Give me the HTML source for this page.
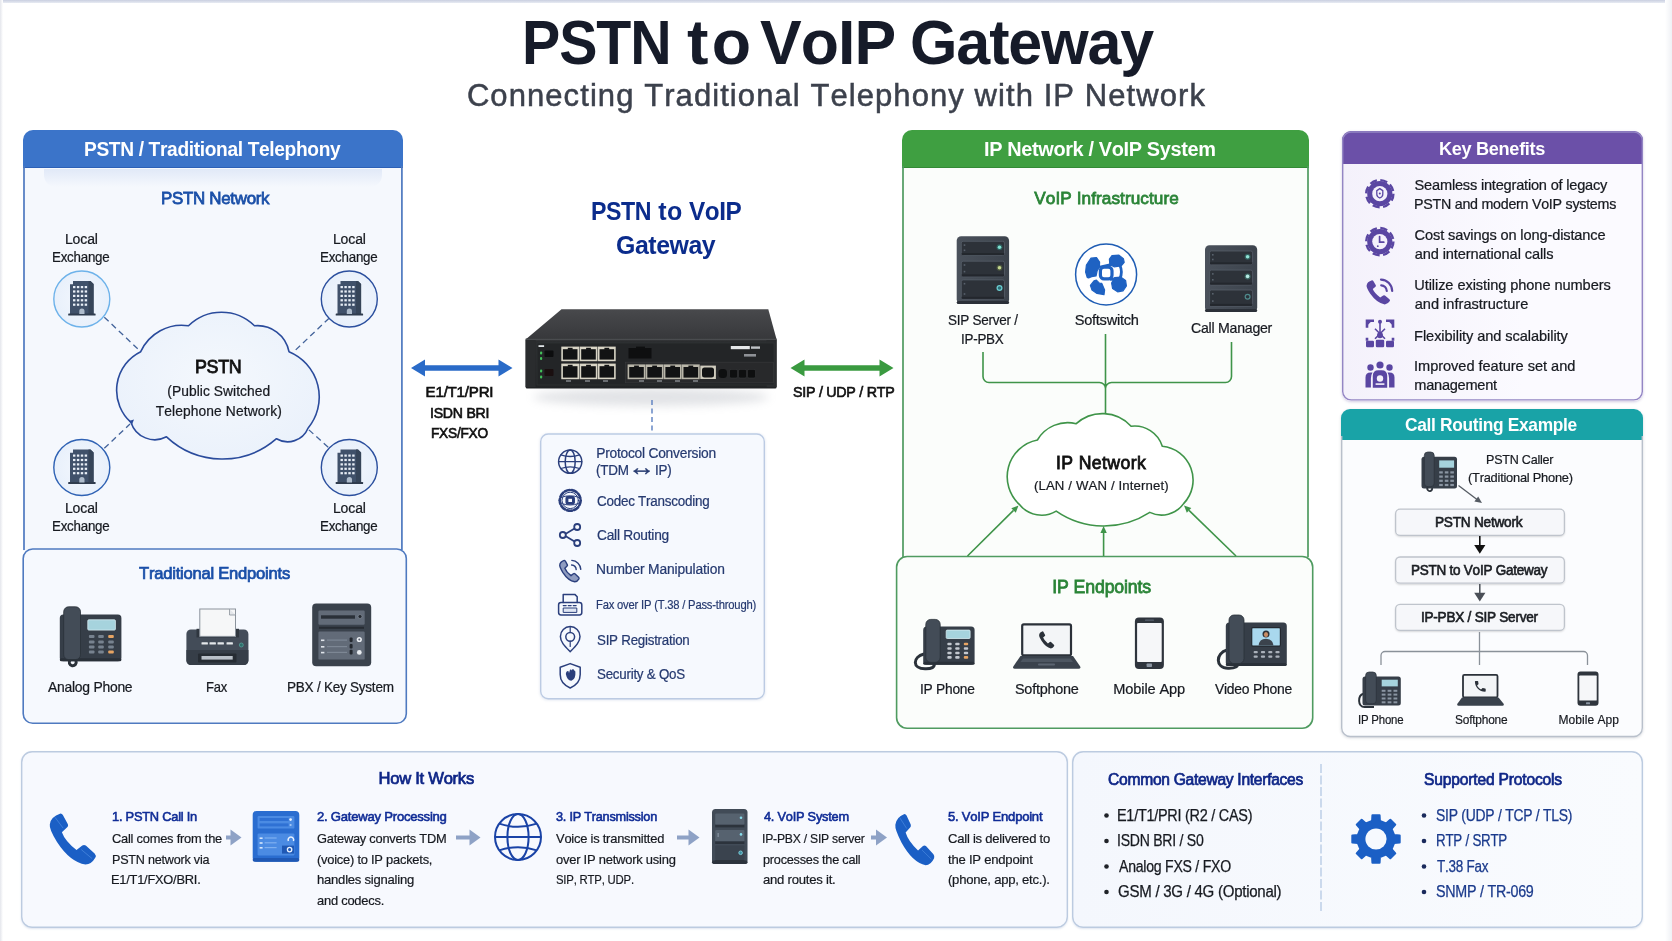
<!DOCTYPE html>
<html lang="en"><head><meta charset="utf-8"><title>PSTN to VoIP Gateway</title>
<style>
html,body{margin:0;padding:0}
body{width:1672px;height:941px;position:relative;overflow:hidden;background:#fff;font-family:"Liberation Sans",sans-serif}
.b{position:absolute;box-sizing:border-box}
.t{position:absolute;white-space:nowrap;transform-origin:0 50%;transform:translateZ(0);font-kerning:none;font-variant-ligatures:none}
svg.ov{position:absolute;left:0;top:0}
</style></head><body>
<div class="b" style="left:0px;top:0px;width:1672px;height:3px;background:linear-gradient(#c9cfe0,#e8ebf3)"></div>
<div class="b" style="left:0px;top:0px;width:3px;height:941px;background:linear-gradient(90deg,#e4e6ec,#fff)"></div>
<div class="b" style="left:1665px;top:0px;width:7px;height:941px;background:linear-gradient(90deg,#fff,#eff1f5)"></div>
<div class="b" style="left:23.2px;top:130px;width:379.6px;height:421px;background:#f5f8fd;border-radius:10px 10px 0 0"></div>
<div class="b" style="left:23.2px;top:130px;width:379.6px;height:37.80000000000001px;background:#3b74c9;border-radius:10px 10px 0 0;border-bottom:1px solid #2c60b6"></div>
<div class="b" style="left:44px;top:169px;width:338px;height:18px;background:linear-gradient(rgba(205,218,242,.5),rgba(245,248,253,0));border-radius:0 0 12px 12px"></div>
<div class="b" style="left:902.2px;top:130px;width:406.5999999999999px;height:428px;background:#fbfdfb;border-radius:10px 10px 0 0"></div>
<div class="b" style="left:902.2px;top:130px;width:406.5999999999999px;height:37.80000000000001px;background:#3f9f41;border-radius:10px 10px 0 0;border-bottom:1px solid #338a36"></div>
<div class="b" style="left:1342px;top:131.4px;width:301px;height:269.20000000000005px;background:linear-gradient(90deg,#f4f1fb,#fbfaff 60%);border-radius:9px;box-shadow:0 1px 3px rgba(90,70,150,.28)"></div>
<div class="b" style="left:1342px;top:131.4px;width:301px;height:32.900000000000006px;background:#6b50a8;border-radius:9px 9px 0 0"></div>
<div class="b" style="left:1341px;top:409px;width:302px;height:328px;background:#fbfcfe;border-radius:9px;box-shadow:0 1px 3px rgba(60,70,90,.22)"></div>
<div class="b" style="left:1341px;top:409px;width:302px;height:30.600000000000023px;background:#19a3a7;border-radius:9px 9px 0 0"></div>
<div class="b" style="left:1395px;top:508.6px;width:170px;height:27.399999999999977px;background:#f6f7fa;border-radius:5px;box-shadow:0 1px 2px rgba(0,0,0,.14)"></div>
<div class="b" style="left:1395px;top:556.4px;width:170px;height:27.399999999999977px;background:#f6f7fa;border-radius:5px;box-shadow:0 1px 2px rgba(0,0,0,.14)"></div>
<div class="b" style="left:1395px;top:603.8px;width:170px;height:27.200000000000045px;background:#f6f7fa;border-radius:5px;box-shadow:0 1px 2px rgba(0,0,0,.14)"></div>
<div class="b" style="left:540px;top:433.3px;width:225px;height:266.2px;background:#f6f9fe;border-radius:8px;box-shadow:0 1px 3px rgba(80,110,170,.2)"></div>
<div class="b" style="left:21px;top:751px;width:1047px;height:177px;background:#f7f9fe;border-radius:11px;box-shadow:0 1px 2px rgba(80,110,170,.18)"></div>
<div class="b" style="left:1072px;top:751px;width:571px;height:177px;background:linear-gradient(90deg,#f4f7fd,#f9fbfe);border-radius:11px;box-shadow:0 1px 2px rgba(80,110,170,.18)"></div>
<svg class="ov" width="1672" height="941" viewBox="0 0 1672 941">
<path d="M24,166 V550 M401.9,166 V550" stroke="#4f7ac0" stroke-width="1.7" fill="none"/>
<rect x="23.2" y="549" width="383.1" height="174.3" rx="9.5" fill="#f6f9fe" stroke="#4f7ac0" stroke-width="1.6" />
<path d="M903,166 V557 M1308,166 V557" stroke="#4f9b60" stroke-width="1.7" fill="none"/>
<rect x="896.6" y="556.5" width="416.1" height="171.7" rx="10.5" fill="#fbfdfb" stroke="#4f9b60" stroke-width="1.6" />
<rect x="1342.7" y="132" width="299.6" height="267.9" rx="8.5" fill="none" stroke="#9486c4" stroke-width="1.4" />
<path d="M1341.7,436 V728 a8.5,8.5 0 0 0 8.5,8.5 H1633.8 a8.5,8.5 0 0 0 8.5,-8.5 V436" fill="none" stroke="#b9c0cb" stroke-width="1.4"/>
<rect x="1395.6" y="509.20000000000005" width="168.8" height="26.2" rx="4.5" fill="none" stroke="#bfc4cc" stroke-width="1.3" />
<rect x="1395.6" y="557.0" width="168.8" height="26.2" rx="4.5" fill="none" stroke="#bfc4cc" stroke-width="1.3" />
<rect x="1395.6" y="604.4" width="168.8" height="26.0" rx="4.5" fill="none" stroke="#bfc4cc" stroke-width="1.3" />
<rect x="540.7" y="434" width="223.6" height="264.8" rx="7.5" fill="none" stroke="#bccbe3" stroke-width="1.4" />
<rect x="21.7" y="751.7" width="1045.6" height="175.6" rx="10.5" fill="none" stroke="#bccbe0" stroke-width="1.4" />
<rect x="1072.7" y="751.7" width="569.6" height="175.6" rx="10.5" fill="none" stroke="#bccbe0" stroke-width="1.4" />
<defs>
<linearGradient id="gTop" x1="0" y1="0" x2="0" y2="1"><stop offset="0" stop-color="#48494c"/><stop offset="1" stop-color="#37383b"/></linearGradient>
<linearGradient id="gFront" x1="0" y1="0" x2="0" y2="1"><stop offset="0" stop-color="#2c2e30"/><stop offset="1" stop-color="#212325"/></linearGradient>
<radialGradient id="gCloud" cx="0.5" cy="0.45" r="0.6"><stop offset="0" stop-color="#f4f8fd"/><stop offset="1" stop-color="#eaf1fb"/></radialGradient>
<radialGradient id="gCirc" cx="0.5" cy="0.5" r="0.5"><stop offset="0" stop-color="#f3f7fd"/><stop offset="1" stop-color="#e8f0fb"/></radialGradient>
<linearGradient id="gSrv" x1="0" y1="0" x2="1" y2="0"><stop offset="0" stop-color="#4a515b"/><stop offset="1" stop-color="#3c434c"/></linearGradient>
<filter id="blur4" x="-20%" y="-100%" width="140%" height="300%"><feGaussianBlur stdDeviation="5"/></filter>
</defs>
<circle cx="81.8" cy="299" r="28" fill="url(#gCirc)" stroke="#6db2ea" stroke-width="1.4"/>
<g transform="translate(70.0,281.0)"><path d="M0,3.2 L3,3.2 L3,0 L20.5,0 L23.6,3 L23.6,33 L0,33 Z" fill="#40516a"/><path d="M18.5,0 L20.5,0 L23.6,3 L23.6,33 L18.5,33 Z" fill="#364559"/><rect x="-1.8" y="32.4" width="27.4" height="2.2" rx="0.6" fill="#2f3c4e"/><rect x="3.0" y="5.0" width="2.4" height="2.2" fill="#e9eff7"/><rect x="6.9" y="5.0" width="2.4" height="2.2" fill="#e9eff7"/><rect x="10.8" y="5.0" width="2.4" height="2.2" fill="#e9eff7"/><rect x="14.7" y="5.0" width="2.4" height="2.2" fill="#e9eff7"/><rect x="3.0" y="9.4" width="2.4" height="2.2" fill="#e9eff7"/><rect x="6.9" y="9.4" width="2.4" height="2.2" fill="#e9eff7"/><rect x="10.8" y="9.4" width="2.4" height="2.2" fill="#e9eff7"/><rect x="14.7" y="9.4" width="2.4" height="2.2" fill="#e9eff7"/><rect x="3.0" y="13.8" width="2.4" height="2.2" fill="#e9eff7"/><rect x="6.9" y="13.8" width="2.4" height="2.2" fill="#e9eff7"/><rect x="10.8" y="13.8" width="2.4" height="2.2" fill="#e9eff7"/><rect x="14.7" y="13.8" width="2.4" height="2.2" fill="#e9eff7"/><rect x="3.0" y="18.2" width="2.4" height="2.2" fill="#e9eff7"/><rect x="6.9" y="18.2" width="2.4" height="2.2" fill="#e9eff7"/><rect x="10.8" y="18.2" width="2.4" height="2.2" fill="#e9eff7"/><rect x="14.7" y="18.2" width="2.4" height="2.2" fill="#e9eff7"/><rect x="3.0" y="22.6" width="2.4" height="2.2" fill="#e9eff7"/><rect x="6.9" y="22.6" width="2.4" height="2.2" fill="#e9eff7"/><rect x="10.8" y="22.6" width="2.4" height="2.2" fill="#e9eff7"/><rect x="14.7" y="22.6" width="2.4" height="2.2" fill="#e9eff7"/><path d="M9.3,33 V30 a2.6,2.6 0 0 1 5.2,0 V33 Z" fill="#aebccc"/></g>
<circle cx="349.3" cy="299" r="28" fill="url(#gCirc)" stroke="#2b4f9e" stroke-width="1.4"/>
<g transform="translate(337.5,281.0)"><path d="M0,3.2 L3,3.2 L3,0 L20.5,0 L23.6,3 L23.6,33 L0,33 Z" fill="#40516a"/><path d="M18.5,0 L20.5,0 L23.6,3 L23.6,33 L18.5,33 Z" fill="#364559"/><rect x="-1.8" y="32.4" width="27.4" height="2.2" rx="0.6" fill="#2f3c4e"/><rect x="3.0" y="5.0" width="2.4" height="2.2" fill="#e9eff7"/><rect x="6.9" y="5.0" width="2.4" height="2.2" fill="#e9eff7"/><rect x="10.8" y="5.0" width="2.4" height="2.2" fill="#e9eff7"/><rect x="14.7" y="5.0" width="2.4" height="2.2" fill="#e9eff7"/><rect x="3.0" y="9.4" width="2.4" height="2.2" fill="#e9eff7"/><rect x="6.9" y="9.4" width="2.4" height="2.2" fill="#e9eff7"/><rect x="10.8" y="9.4" width="2.4" height="2.2" fill="#e9eff7"/><rect x="14.7" y="9.4" width="2.4" height="2.2" fill="#e9eff7"/><rect x="3.0" y="13.8" width="2.4" height="2.2" fill="#e9eff7"/><rect x="6.9" y="13.8" width="2.4" height="2.2" fill="#e9eff7"/><rect x="10.8" y="13.8" width="2.4" height="2.2" fill="#e9eff7"/><rect x="14.7" y="13.8" width="2.4" height="2.2" fill="#e9eff7"/><rect x="3.0" y="18.2" width="2.4" height="2.2" fill="#e9eff7"/><rect x="6.9" y="18.2" width="2.4" height="2.2" fill="#e9eff7"/><rect x="10.8" y="18.2" width="2.4" height="2.2" fill="#e9eff7"/><rect x="14.7" y="18.2" width="2.4" height="2.2" fill="#e9eff7"/><rect x="3.0" y="22.6" width="2.4" height="2.2" fill="#e9eff7"/><rect x="6.9" y="22.6" width="2.4" height="2.2" fill="#e9eff7"/><rect x="10.8" y="22.6" width="2.4" height="2.2" fill="#e9eff7"/><rect x="14.7" y="22.6" width="2.4" height="2.2" fill="#e9eff7"/><path d="M9.3,33 V30 a2.6,2.6 0 0 1 5.2,0 V33 Z" fill="#aebccc"/></g>
<circle cx="81.8" cy="467.5" r="28" fill="url(#gCirc)" stroke="#2f62b4" stroke-width="1.4"/>
<g transform="translate(70.0,449.5)"><path d="M0,3.2 L3,3.2 L3,0 L20.5,0 L23.6,3 L23.6,33 L0,33 Z" fill="#40516a"/><path d="M18.5,0 L20.5,0 L23.6,3 L23.6,33 L18.5,33 Z" fill="#364559"/><rect x="-1.8" y="32.4" width="27.4" height="2.2" rx="0.6" fill="#2f3c4e"/><rect x="3.0" y="5.0" width="2.4" height="2.2" fill="#e9eff7"/><rect x="6.9" y="5.0" width="2.4" height="2.2" fill="#e9eff7"/><rect x="10.8" y="5.0" width="2.4" height="2.2" fill="#e9eff7"/><rect x="14.7" y="5.0" width="2.4" height="2.2" fill="#e9eff7"/><rect x="3.0" y="9.4" width="2.4" height="2.2" fill="#e9eff7"/><rect x="6.9" y="9.4" width="2.4" height="2.2" fill="#e9eff7"/><rect x="10.8" y="9.4" width="2.4" height="2.2" fill="#e9eff7"/><rect x="14.7" y="9.4" width="2.4" height="2.2" fill="#e9eff7"/><rect x="3.0" y="13.8" width="2.4" height="2.2" fill="#e9eff7"/><rect x="6.9" y="13.8" width="2.4" height="2.2" fill="#e9eff7"/><rect x="10.8" y="13.8" width="2.4" height="2.2" fill="#e9eff7"/><rect x="14.7" y="13.8" width="2.4" height="2.2" fill="#e9eff7"/><rect x="3.0" y="18.2" width="2.4" height="2.2" fill="#e9eff7"/><rect x="6.9" y="18.2" width="2.4" height="2.2" fill="#e9eff7"/><rect x="10.8" y="18.2" width="2.4" height="2.2" fill="#e9eff7"/><rect x="14.7" y="18.2" width="2.4" height="2.2" fill="#e9eff7"/><rect x="3.0" y="22.6" width="2.4" height="2.2" fill="#e9eff7"/><rect x="6.9" y="22.6" width="2.4" height="2.2" fill="#e9eff7"/><rect x="10.8" y="22.6" width="2.4" height="2.2" fill="#e9eff7"/><rect x="14.7" y="22.6" width="2.4" height="2.2" fill="#e9eff7"/><path d="M9.3,33 V30 a2.6,2.6 0 0 1 5.2,0 V33 Z" fill="#aebccc"/></g>
<circle cx="349.3" cy="467.5" r="28" fill="url(#gCirc)" stroke="#2b4f9e" stroke-width="1.4"/>
<g transform="translate(337.5,449.5)"><path d="M0,3.2 L3,3.2 L3,0 L20.5,0 L23.6,3 L23.6,33 L0,33 Z" fill="#40516a"/><path d="M18.5,0 L20.5,0 L23.6,3 L23.6,33 L18.5,33 Z" fill="#364559"/><rect x="-1.8" y="32.4" width="27.4" height="2.2" rx="0.6" fill="#2f3c4e"/><rect x="3.0" y="5.0" width="2.4" height="2.2" fill="#e9eff7"/><rect x="6.9" y="5.0" width="2.4" height="2.2" fill="#e9eff7"/><rect x="10.8" y="5.0" width="2.4" height="2.2" fill="#e9eff7"/><rect x="14.7" y="5.0" width="2.4" height="2.2" fill="#e9eff7"/><rect x="3.0" y="9.4" width="2.4" height="2.2" fill="#e9eff7"/><rect x="6.9" y="9.4" width="2.4" height="2.2" fill="#e9eff7"/><rect x="10.8" y="9.4" width="2.4" height="2.2" fill="#e9eff7"/><rect x="14.7" y="9.4" width="2.4" height="2.2" fill="#e9eff7"/><rect x="3.0" y="13.8" width="2.4" height="2.2" fill="#e9eff7"/><rect x="6.9" y="13.8" width="2.4" height="2.2" fill="#e9eff7"/><rect x="10.8" y="13.8" width="2.4" height="2.2" fill="#e9eff7"/><rect x="14.7" y="13.8" width="2.4" height="2.2" fill="#e9eff7"/><rect x="3.0" y="18.2" width="2.4" height="2.2" fill="#e9eff7"/><rect x="6.9" y="18.2" width="2.4" height="2.2" fill="#e9eff7"/><rect x="10.8" y="18.2" width="2.4" height="2.2" fill="#e9eff7"/><rect x="14.7" y="18.2" width="2.4" height="2.2" fill="#e9eff7"/><rect x="3.0" y="22.6" width="2.4" height="2.2" fill="#e9eff7"/><rect x="6.9" y="22.6" width="2.4" height="2.2" fill="#e9eff7"/><rect x="10.8" y="22.6" width="2.4" height="2.2" fill="#e9eff7"/><rect x="14.7" y="22.6" width="2.4" height="2.2" fill="#e9eff7"/><path d="M9.3,33 V30 a2.6,2.6 0 0 1 5.2,0 V33 Z" fill="#aebccc"/></g>
<path d="M140.7,351.7 A45,45 0 0 1 188.5,325.8 A47,47 0 0 1 254.5,325.8 A32,32 0 0 1 289,351.7 A49,49 0 0 1 308,428.2 A22,22 0 0 1 276.5,438.7 A82,82 0 0 1 166.5,436.8 A25,25 0 0 1 131,422.4 A43,43 0 0 1 140.7,351.7 Z" fill="url(#gCloud)" stroke="#2a4b9c" stroke-width="1.6" stroke-linejoin="round"/>
<line x1="104.3" y1="317.2" x2="140" y2="351" stroke="#43639a" stroke-width="1.3" stroke-dasharray="6 4"/>
<line x1="329.1" y1="318.2" x2="294" y2="351.5" stroke="#43639a" stroke-width="1.3" stroke-dasharray="6 4"/>
<line x1="104.3" y1="448.3" x2="130" y2="424" stroke="#43639a" stroke-width="1.3" stroke-dasharray="6 4"/>
<line x1="328.2" y1="447.3" x2="308.5" y2="429.5" stroke="#43639a" stroke-width="1.3" stroke-dasharray="6 4"/>
<path d="M134,419.6 l-5.2,1.4 l3.2,3.6 z" fill="#2a4b9c"/>
<path d="M411,368 l14,-8.6 v5.9 h73.5 v-5.9 l14,8.6 l-14,8.6 v-5.9 h-73.5 v5.9 z" fill="#2a6bc8"/>
<path d="M790.5,368 l14,-8.6 v5.9 h75.0 v-5.9 l14,8.6 l-14,8.6 v-5.9 h-75.0 v5.9 z" fill="#3a9a40"/>
<ellipse cx="651" cy="397" rx="118" ry="9" fill="#a4a9b2" opacity="0.32" filter="url(#blur4)"/>
<path d="M561.5,309.2 L768.3,309.2 L776.6,339.4 L525.6,339.4 Z" fill="url(#gTop)"/>
<rect x="525.6" y="338.6" width="251" height="50" rx="1.5" fill="url(#gFront)"/>
<rect x="525.6" y="338.6" width="251" height="1.6" fill="#4a4c4f"/>
<rect x="525.6" y="340" width="10" height="47" fill="#2a2c2e"/><rect x="766.6" y="340" width="10" height="47" fill="#2a2c2e"/>
<rect x="537" y="343" width="237" height="42" fill="#232527" stroke="#323436" stroke-width="0.7"/>
<rect x="625.5" y="362.2" width="148" height="20.6" fill="#28292b" stroke="#393b3d" stroke-width="0.6"/>
<rect x="561.3" y="346.6" width="17.8" height="14.6" fill="#d9d5c6"/><rect x="562.9" y="349.2" width="14.6" height="10.4" fill="#121314"/><rect x="567.8" y="347.8" width="4.8" height="2" fill="#121314"/>
<rect x="561.3" y="363.6" width="17.8" height="15.6" fill="#d9d5c6"/><rect x="562.9" y="366.2" width="14.6" height="11.4" fill="#121314"/><rect x="567.8" y="364.8" width="4.8" height="2" fill="#121314"/>
<rect x="579.6" y="346.6" width="17.8" height="14.6" fill="#d9d5c6"/><rect x="581.2" y="349.2" width="14.6" height="10.4" fill="#121314"/><rect x="586.1" y="347.8" width="4.8" height="2" fill="#121314"/>
<rect x="579.6" y="363.6" width="17.8" height="15.6" fill="#d9d5c6"/><rect x="581.2" y="366.2" width="14.6" height="11.4" fill="#121314"/><rect x="586.1" y="364.8" width="4.8" height="2" fill="#121314"/>
<rect x="597.9" y="346.6" width="17.8" height="14.6" fill="#d9d5c6"/><rect x="599.5" y="349.2" width="14.6" height="10.4" fill="#121314"/><rect x="604.4" y="347.8" width="4.8" height="2" fill="#121314"/>
<rect x="597.9" y="363.6" width="17.8" height="15.6" fill="#d9d5c6"/><rect x="599.5" y="366.2" width="14.6" height="11.4" fill="#121314"/><rect x="604.4" y="364.8" width="4.8" height="2" fill="#121314"/>
<rect x="627.6" y="364.4" width="17.8" height="14.8" fill="#b9b6a9"/><rect x="629.2" y="367.0" width="14.6" height="10.6" fill="#121314"/><rect x="634.1" y="365.6" width="4.8" height="2" fill="#121314"/>
<rect x="645.7" y="364.4" width="17.8" height="14.8" fill="#b9b6a9"/><rect x="647.3" y="367.0" width="14.6" height="10.6" fill="#121314"/><rect x="652.2" y="365.6" width="4.8" height="2" fill="#121314"/>
<rect x="663.8" y="364.4" width="17.8" height="14.8" fill="#b9b6a9"/><rect x="665.4" y="367.0" width="14.6" height="10.6" fill="#121314"/><rect x="670.3" y="365.6" width="4.8" height="2" fill="#121314"/>
<rect x="681.9" y="364.4" width="17.8" height="14.8" fill="#b9b6a9"/><rect x="683.5" y="367.0" width="14.6" height="10.6" fill="#121314"/><rect x="688.4" y="365.6" width="4.8" height="2" fill="#121314"/>
<rect x="700.3" y="365.6" width="15.6" height="13.4" fill="#cfcbbd"/><rect x="702" y="367.6" width="12" height="10" rx="2.5" fill="#121314"/>
<rect x="718.5" y="369" width="8.5" height="9" rx="3.5" fill="#0e0f10"/>
<rect x="729.5" y="369.4" width="8" height="8.6" rx="1.5" fill="#0e0f10" stroke="#3a3c3e" stroke-width="0.5"/>
<rect x="738.5" y="369.4" width="8" height="8.6" rx="1.5" fill="#0e0f10" stroke="#3a3c3e" stroke-width="0.5"/>
<rect x="747.5" y="369.4" width="8" height="8.6" rx="1.5" fill="#0e0f10" stroke="#3a3c3e" stroke-width="0.5"/>
<rect x="628.5" y="348" width="23" height="10.5" fill="#0e0f10"/><rect x="636" y="346.6" width="9" height="3" fill="#0e0f10"/>
<rect x="538.5" y="345.2" width="5.6" height="1.8" fill="#dfe3e6"/>
<rect x="540" y="351.5" width="2.2" height="3" rx="1" fill="#43c15a"/>
<rect x="540" y="357" width="2.2" height="3" rx="1" fill="#43c15a"/>
<rect x="540" y="369.5" width="2.2" height="3" rx="1" fill="#43c15a"/>
<rect x="540" y="375.5" width="2.2" height="3" rx="1" fill="#43c15a"/>
<rect x="544.5" y="350.5" width="9" height="6.5" rx="1" fill="#0c0d0e"/><rect x="544.5" y="369" width="9" height="7" rx="1" fill="#1a0f10"/>
<rect x="730.8" y="346" width="19" height="3.2" fill="#e6e8ea"/><rect x="751" y="346.4" width="9" height="2.4" fill="#bfc2c6"/><rect x="744" y="354" width="12" height="2.6" fill="#8e9196"/>
<rect x="566" y="380.4" width="5" height="1.2" fill="#9a9da2"/>
<rect x="585" y="380.4" width="5" height="1.2" fill="#9a9da2"/>
<rect x="603" y="380.4" width="5" height="1.2" fill="#9a9da2"/>
<rect x="639" y="380.4" width="5" height="1.2" fill="#9a9da2"/>
<rect x="657" y="380.4" width="5" height="1.2" fill="#9a9da2"/>
<rect x="675" y="380.4" width="5" height="1.2" fill="#9a9da2"/>
<rect x="693" y="380.4" width="5" height="1.2" fill="#9a9da2"/>
<line x1="652" y1="400" x2="652" y2="434" stroke="#5a7fc0" stroke-width="1.4" stroke-dasharray="5 3.5"/>
<path d="M70,660 a3.5,3.5 0 1 0 6,1" fill="none" stroke="#2a3139" stroke-width="3" stroke-linecap="round"/>
<rect x="59.8" y="614.4" width="61.6" height="46.9" rx="3.5" fill="#363e48"/>
<rect x="59.8" y="658.3" width="61.6" height="3" rx="1.5" fill="#2a3139"/>
<rect x="63.7" y="606.8" width="16.8" height="52.8" rx="5" fill="#434c57" stroke="#2a3139" stroke-width="0.8"/>
<rect x="87.8" y="619.8" width="27.6" height="10.3" rx="1" fill="#a6d3dd" stroke="#d8eef2" stroke-width="0.8"/>
<rect x="88.9" y="635.1" width="5.6" height="3" rx="1" fill="#77828f"/>
<rect x="98.2" y="635.1" width="5.6" height="3" rx="1" fill="#77828f"/>
<rect x="108.2" y="635.1" width="5.6" height="3" rx="1" fill="#e7a463"/>
<rect x="88.9" y="640.4" width="5.6" height="3" rx="1" fill="#77828f"/>
<rect x="98.2" y="640.4" width="5.6" height="3" rx="1" fill="#77828f"/>
<rect x="108.2" y="640.4" width="5.6" height="3" rx="1" fill="#77828f"/>
<rect x="88.9" y="645.6" width="5.6" height="3" rx="1" fill="#77828f"/>
<rect x="98.2" y="645.6" width="5.6" height="3" rx="1" fill="#77828f"/>
<rect x="108.2" y="645.6" width="5.6" height="3" rx="1" fill="#77828f"/>
<rect x="88.9" y="650.6" width="5.6" height="3" rx="1" fill="#77828f"/>
<rect x="98.2" y="650.6" width="5.6" height="3" rx="1" fill="#77828f"/>
<rect x="108.2" y="650.6" width="5.6" height="3" rx="1" fill="#e7a463"/>
<rect x="186.4" y="629.5" width="62" height="35.5" rx="4.5" fill="#434c58"/>
<rect x="196.5" y="628.8" width="42.5" height="8.6" fill="#2f363f"/>
<rect x="199.8" y="609" width="35.7" height="27.4" fill="#f6f7f8" stroke="#8b939c" stroke-width="1"/>
<path d="M229.5,609 v6 h6" fill="#e3e6ea" stroke="#8b939c" stroke-width="0.8"/>
<path d="M186.4,650 h62 v10.5 a4.5,4.5 0 0 1 -4.5,4.5 h-53 a4.5,4.5 0 0 1 -4.5,-4.5 z" fill="#363e48"/>
<rect x="201.5" y="642.2" width="6.4" height="2.4" rx="0.6" fill="#e4e7ea"/>
<rect x="209.5" y="642.2" width="6.4" height="2.4" rx="0.6" fill="#e4e7ea"/>
<rect x="217.5" y="642.2" width="6.4" height="2.4" rx="0.6" fill="#e4e7ea"/>
<rect x="226.5" y="642.2" width="6.4" height="2.4" rx="0.6" fill="#e4e7ea"/>
<circle cx="241.3" cy="645" r="2" fill="#2f6f6a" stroke="#58a79f" stroke-width="0.7"/>
<rect x="198" y="653.5" width="38.5" height="9" rx="1" fill="#262c33"/>
<rect x="201.5" y="656" width="31.2" height="3.6" fill="#b9c0c8"/>
<rect x="312.2" y="603.6" width="59" height="62.6" rx="4" fill="#3a424c"/>
<rect x="318.4" y="610.5" width="46.3" height="14.2" rx="1.2" fill="#626b78"/>
<rect x="321" y="615.3" width="34" height="3.4" fill="#2a3038"/><circle cx="360" cy="616.5" r="2" fill="#23282f" stroke="#8a94a0" stroke-width="0.6"/>
<rect x="319" y="626.8" width="45" height="2" fill="#272c33"/>
<rect x="318.4" y="631.6" width="46.3" height="28" rx="1.2" fill="#626b78"/>
<rect x="321" y="639.5" width="3.4" height="1.6" fill="#dfe4ea"/><rect x="327" y="639.5" width="20" height="1.2" fill="#7d8794"/><rect x="349.6" y="637.5" width="3" height="4.6" rx="1" fill="#23282f"/>
<rect x="321" y="646" width="3.4" height="1.6" fill="#dfe4ea"/><rect x="327" y="646" width="20" height="1.2" fill="#7d8794"/><rect x="349.6" y="644" width="3" height="4.6" rx="1" fill="#23282f"/>
<rect x="321" y="651.8" width="3.4" height="1.6" fill="#dfe4ea"/><rect x="327" y="651.8" width="20" height="1.2" fill="#7d8794"/><rect x="349.6" y="649.8" width="3" height="4.6" rx="1" fill="#23282f"/>
<circle cx="359.3" cy="639.5" r="2.6" fill="#e9edf1"/><circle cx="359.3" cy="639.5" r="1" fill="#596170"/><circle cx="359.3" cy="652.4" r="2.4" fill="#e9edf1"/>
<rect x="956.7" y="236.2" width="52.4" height="67.7" rx="4.5" fill="url(#gSrv)"/>
<rect x="956.7" y="300.9" width="52.4" height="3" rx="1.5" fill="#2b3038"/>
<rect x="961.3" y="241.3" width="43.2" height="14.2" rx="1.8" fill="#2d3239" stroke="#555d68" stroke-width="0.8"/>
<rect x="961.7" y="253.1" width="42.4" height="2" fill="#23272d"/>
<circle cx="999.5" cy="247.3" r="3" fill="#2f5f5e"/><circle cx="999.5" cy="247.3" r="1.8" fill="#7fe0d0"/>
<rect x="963.7" y="244.3" width="1.6" height="1.6" fill="#59626d"/><rect x="963.7" y="249.5" width="1.6" height="1.6" fill="#59626d"/>
<rect x="961.3" y="261.2" width="43.2" height="15.6" rx="1.8" fill="#2d3239" stroke="#555d68" stroke-width="0.8"/>
<rect x="961.7" y="274.4" width="42.4" height="2" fill="#23272d"/>
<circle cx="999.5" cy="267.8" r="3" fill="#4a5640"/><circle cx="999.5" cy="267.8" r="1.8" fill="#c4d68e"/>
<rect x="963.7" y="264.2" width="1.6" height="1.6" fill="#59626d"/><rect x="963.7" y="270.8" width="1.6" height="1.6" fill="#59626d"/>
<rect x="961.3" y="279.9" width="43.2" height="19.3" rx="1.8" fill="#2d3239" stroke="#555d68" stroke-width="0.8"/>
<rect x="961.7" y="296.8" width="42.4" height="2" fill="#23272d"/>
<circle cx="999.5" cy="288.0" r="3" fill="#6ccfd2"/><circle cx="999.5" cy="288.0" r="1.8" fill="#2f6e78"/>
<rect x="963.7" y="282.9" width="1.6" height="1.6" fill="#59626d"/><rect x="963.7" y="293.2" width="1.6" height="1.6" fill="#59626d"/>
<rect x="1205.0" y="245.3" width="52.2" height="66.7" rx="4.5" fill="url(#gSrv)"/>
<rect x="1205.0" y="309.0" width="52.2" height="3" rx="1.5" fill="#2b3038"/>
<rect x="1209.6" y="251.0" width="43.0" height="13.7" rx="1.8" fill="#2d3239" stroke="#555d68" stroke-width="0.8"/>
<rect x="1210.0" y="262.3" width="42.2" height="2" fill="#23272d"/>
<circle cx="1247.6" cy="256.8" r="3" fill="#35605f"/><circle cx="1247.6" cy="256.8" r="1.8" fill="#8fe3d6"/>
<rect x="1212.0" y="254.0" width="1.6" height="1.6" fill="#59626d"/><rect x="1212.0" y="258.7" width="1.6" height="1.6" fill="#59626d"/>
<rect x="1209.6" y="270.1" width="43.0" height="14.9" rx="1.8" fill="#2d3239" stroke="#555d68" stroke-width="0.8"/>
<rect x="1210.0" y="282.6" width="42.2" height="2" fill="#23272d"/>
<circle cx="1247.6" cy="276.4" r="3" fill="#3d6763"/><circle cx="1247.6" cy="276.4" r="1.8" fill="#b6ebe4"/>
<rect x="1212.0" y="273.1" width="1.6" height="1.6" fill="#59626d"/><rect x="1212.0" y="279.0" width="1.6" height="1.6" fill="#59626d"/>
<rect x="1209.6" y="290.0" width="43.0" height="16.3" rx="1.8" fill="#2d3239" stroke="#555d68" stroke-width="0.8"/>
<rect x="1210.0" y="303.9" width="42.2" height="2" fill="#23272d"/>
<circle cx="1247.6" cy="296.8" r="3" fill="#4f8a8c"/><circle cx="1247.6" cy="296.8" r="1.8" fill="#2c3239"/>
<rect x="1212.0" y="293.0" width="1.6" height="1.6" fill="#59626d"/><rect x="1212.0" y="300.3" width="1.6" height="1.6" fill="#59626d"/>
<circle cx="1106.1" cy="274.4" r="30.5" fill="#fff" stroke="#1f5db4" stroke-width="1.5"/>
<g fill="#1f62c2" stroke="#1f62c2" stroke-width="1.2" stroke-linejoin="round"><path d="M1091,258.2 L1096.5,257.6 L1099.6,262 L1099.4,267.5 L1097.2,270.6 L1096,276 L1091.6,276.6 L1088.6,278 L1087.2,277.4 L1085.6,272 L1086.4,265 Z"/><path d="M1112,255.6 L1119,255.2 L1123.4,258.6 L1124.2,262.4 L1121,266 L1114,266.8 L1109.8,264.4 L1109.4,259.2 Z"/><path d="M1114.6,277.6 L1121,277.2 L1125.6,280.4 L1126.4,286 L1123,290.8 L1117.6,291.8 L1112.6,288.6 L1111.6,283 Z"/><path d="M1094,280.8 L1096.4,280.2 L1099.4,283.2 L1101.8,283.4 L1104.6,290 L1104,294.6 L1097,293.4 L1092,290 L1090.4,285.4 Z"/></g>
<path d="M1100,267 L1111,264.6 M1119.8,265 Q1123,272 1119.8,279 M1110,279.4 L1114,279" fill="none" stroke="#1f62c2" stroke-width="2.8"/>
<rect x="1100.4" y="267.2" width="11.6" height="11.6" rx="3.6" fill="#fff" stroke="#1f62c2" stroke-width="3.2"/>
<path d="M983,352 V376.5 a6,6 0 0 0 6,6 H1099.5 a6,6 0 0 1 6,6 M1231.5,342 V376.5 a6,6 0 0 1 -6,6 H1111.5 a6,6 0 0 0 -6,6 M1105.5,334 V414" fill="none" stroke="#3f9449" stroke-width="1.6"/>
<path d="M1037.4,440 A35,35 0 0 1 1076.2,423.7 A39,39 0 0 1 1131.1,426.2 A29,29 0 0 1 1162.3,446.2 A34,34 0 0 1 1183.6,503.6 A27,27 0 0 1 1149.8,512.4 A84,84 0 0 1 1056.2,511.1 A28,28 0 0 1 1019.9,504.9 A37.5,37.5 0 0 1 1037.4,440 Z" fill="#fff" stroke="#3f9449" stroke-width="1.6" stroke-linejoin="round"/>
<line x1="967.5" y1="556.0" x2="1013.5" y2="510.4" stroke="#3f9449" stroke-width="1.6"/>
<path d="M1018.5,505.5 L1015.8,512.7 L1011.3,508.2 Z" fill="#3f9449"/>
<line x1="1103.6" y1="556.0" x2="1103.6" y2="533.0" stroke="#3f9449" stroke-width="1.6"/>
<path d="M1103.6,526.0 L1106.8,533.0 L1100.4,533.0 Z" fill="#3f9449"/>
<line x1="1236.0" y1="556.0" x2="1189.0" y2="510.4" stroke="#3f9449" stroke-width="1.6"/>
<path d="M1184.0,505.5 L1191.3,508.1 L1186.8,512.7 Z" fill="#3f9449"/>
<path d="M924,654 C912.5,657 912,668.6 925,668.8 C931.5,669 935,667.5 934.5,662.5" fill="none" stroke="#2a3139" stroke-width="3" stroke-linecap="round"/>
<rect x="923.2" y="626.5" width="51.4" height="38.3" rx="3.5" fill="#363e48"/>
<rect x="923.2" y="661.8" width="51.4" height="3" rx="1.5" fill="#2a3139"/>
<rect x="925.8" y="619.4" width="14.4" height="43.0" rx="5" fill="#434c57" stroke="#2a3139" stroke-width="0.8"/>
<rect x="946.2" y="630.1" width="23.9" height="8.4" rx="1" fill="#a6d3dd" stroke="#d8eef2" stroke-width="0.8"/>
<rect x="947.3" y="642.7" width="4.4" height="2.6" rx="1" fill="#c3c8cf"/>
<rect x="955.2" y="642.7" width="4.4" height="2.6" rx="1" fill="#c3c8cf"/>
<rect x="963.8" y="642.7" width="4.4" height="2.6" rx="1" fill="#e7a463"/>
<rect x="947.3" y="647.2" width="4.4" height="2.6" rx="1" fill="#c3c8cf"/>
<rect x="955.2" y="647.2" width="4.4" height="2.6" rx="1" fill="#c3c8cf"/>
<rect x="963.8" y="647.2" width="4.4" height="2.6" rx="1" fill="#c3c8cf"/>
<rect x="947.3" y="651.7" width="4.4" height="2.6" rx="1" fill="#c3c8cf"/>
<rect x="955.2" y="651.7" width="4.4" height="2.6" rx="1" fill="#c3c8cf"/>
<rect x="963.8" y="651.7" width="4.4" height="2.6" rx="1" fill="#c3c8cf"/>
<rect x="947.3" y="656.1" width="4.4" height="2.6" rx="1" fill="#c3c8cf"/>
<rect x="955.2" y="656.1" width="4.4" height="2.6" rx="1" fill="#c3c8cf"/>
<rect x="963.8" y="656.1" width="4.4" height="2.6" rx="1" fill="#e7a463"/>
<rect x="1022.2" y="624.3" width="48.8" height="31" rx="1.6" fill="#f3f5f7" stroke="#2b3139" stroke-width="2.2"/>
<path d="M1020.5,656 H1073 L1080.2,666.4 q0.8,2.3 -1.6,2.3 H1014.9 q-2.4,0 -1.6,-2.3 Z" fill="#3a424c"/>
<path d="M1023,658.6 H1070.5 L1073,662 H1020.5 Z" fill="#4d5661"/><rect x="1038" y="663.6" width="17" height="2" rx="0.8" fill="#5b6470"/>
<g transform="translate(1039,631.4) scale(0.3297,0.3340) translate(-49.4,-813.7)"><path d="M60.5,813.6 Q62.2,813.6 63,815.2 L67.9,824.2 Q68.6,826 67.2,827.2 L61.9,832.2 Q65,841 76.5,850 L82.3,845.5 Q84,844.4 85.8,845.5 L94.6,853.6 Q96.4,855.6 95.4,857.6 Q91.5,864.5 85.5,864.6 Q70,862 57,842 Q49,829 49.8,824.5 Q50.5,817 60.5,813.6 Z" fill="#2b3139"/><path d="M55,817.3 L63.1,828.1 M81.3,849.6 L92.1,858.6" stroke="#2b3139" stroke-width="0.7" fill="none"/></g>
<rect x="1134.9" y="617.4" width="29" height="51.7" rx="4" fill="#2f353d"/>
<rect x="1137.1" y="623" width="24.6" height="39" rx="0.8" fill="#f6f7f9"/>
<rect x="1145" y="619.6" width="9" height="1.2" rx="0.6" fill="#596270"/><rect x="1146.6" y="663.6" width="5.4" height="3.4" rx="0.7" fill="#8b95a2"/>
<path d="M1227,650 C1215.5,653 1215,668 1228,668.2 C1235,668.4 1238.5,667 1238,662" fill="none" stroke="#2a3139" stroke-width="3" stroke-linecap="round"/>
<rect x="1225.8" y="622.5" width="61.0" height="43.5" rx="3.5" fill="#363e48"/>
<rect x="1225.8" y="663.0" width="61.0" height="3" rx="1.5" fill="#2a3139"/>
<rect x="1229.0" y="615.0" width="15.0" height="48.6" rx="5" fill="#434c57" stroke="#2a3139" stroke-width="0.8"/>
<rect x="1253.6" y="650.9" width="4.2" height="2.4" rx="1" fill="#aab1ba"/>
<rect x="1260.9" y="650.9" width="4.2" height="2.4" rx="1" fill="#aab1ba"/>
<rect x="1268.2" y="650.9" width="4.2" height="2.4" rx="1" fill="#aab1ba"/>
<rect x="1275.4" y="650.9" width="4.2" height="2.4" rx="1" fill="#aab1ba"/>
<rect x="1253.6" y="655.4" width="4.2" height="2.4" rx="1" fill="#aab1ba"/>
<rect x="1260.9" y="655.4" width="4.2" height="2.4" rx="1" fill="#aab1ba"/>
<rect x="1268.2" y="655.4" width="4.2" height="2.4" rx="1" fill="#aab1ba"/>
<rect x="1275.4" y="655.4" width="4.2" height="2.4" rx="1" fill="#aab1ba"/>
<rect x="1251.7" y="627.7" width="28.7" height="18.4" rx="1" fill="#a9d8ee" stroke="#23282f" stroke-width="1.2"/>
<circle cx="1266" cy="634" r="3.5" fill="#2c3138"/><ellipse cx="1266" cy="634.6" rx="2.1" ry="2.5" fill="#c98c64"/><path d="M1258.6,645.5 q0.5,-6.5 7.4,-6.8 q6.9,0.3 7.4,6.8 z" fill="#3b434d"/>
<circle cx="1379.8" cy="193.7" r="12.6" fill="#5a46a2"/>
<circle cx="1379.8" cy="193.7" r="13.6" fill="none" stroke="#5a46a2" stroke-width="2.4" stroke-dasharray="7.2 3.5"/>
<circle cx="1379.8" cy="193.7" r="7.6" fill="#f4f1fb"/>
<path d="M1379.8,188.6 l3,2 v3.6 q0,2.6 -3,3.8 q-3,-1.2 -3,-3.8 v-3.6 z" fill="none" stroke="#5a46a2" stroke-width="1.3"/><circle cx="1379.8" cy="193.6" r="1" fill="#5a46a2"/>
<circle cx="1379.8" cy="241.6" r="12.6" fill="#5a46a2"/>
<circle cx="1379.8" cy="241.6" r="13.6" fill="none" stroke="#5a46a2" stroke-width="2.4" stroke-dasharray="7.2 3.5"/>
<circle cx="1379.8" cy="241.6" r="7.6" fill="#f4f1fb"/>
<path d="M1379.6,236.6 v5.6 h4.2" fill="none" stroke="#5a46a2" stroke-width="1.7" stroke-linecap="round"/><circle cx="1377.8" cy="246.2" r="0.9" fill="#5a46a2"/>
<g transform="translate(1366.4,280.4) scale(0.5098,0.4715) translate(-49.4,-813.7)"><path d="M60.5,813.6 Q62.2,813.6 63,815.2 L67.9,824.2 Q68.6,826 67.2,827.2 L61.9,832.2 Q65,841 76.5,850 L82.3,845.5 Q84,844.4 85.8,845.5 L94.6,853.6 Q96.4,855.6 95.4,857.6 Q91.5,864.5 85.5,864.6 Q70,862 57,842 Q49,829 49.8,824.5 Q50.5,817 60.5,813.6 Z" fill="#5a46a2"/><path d="M55,817.3 L63.1,828.1 M81.3,849.6 L92.1,858.6" stroke="#5a46a2" stroke-width="0.7" fill="none"/></g>
<path d="M1381.2,285.4 a6,6 0 0 1 5.6,5.6 M1381,279.6 a11.6,11.6 0 0 1 11.2,11.4" fill="none" stroke="#5a46a2" stroke-width="2.2" stroke-linecap="round"/>
<g transform="translate(1380,333.8)" fill="#5a46a2" stroke="#5a46a2"><path d="M-13,-6 v-7 h7 M6,-13 h7 v7 M-13,4 v3 M13,4 v3" fill="none" stroke-width="2.6"/><path d="M-5,-5 L5,5 M5,-5 L-5,5 M0,-12 V0" fill="none" stroke-width="1.6"/><circle cx="0" cy="-12" r="2" stroke="none"/><path d="M-13,-13 l5,0 l-5,5z M13,-13 l-5,0 l5,5z" stroke="none"/><rect x="-14" y="7" width="8" height="6.5" rx="1.2" stroke="none"/><rect x="-4.2" y="6" width="8.4" height="7.5" rx="1.2" stroke="none"/><rect x="6" y="7" width="8" height="6.5" rx="1.2" stroke="none"/><circle cx="0" cy="1.5" r="3" stroke="none"/></g>
<g transform="translate(1380,375)" fill="#5a46a2"><circle cx="-9.5" cy="-7.5" r="3.2"/><circle cx="9.5" cy="-7.5" r="3.2"/><circle cx="0" cy="-10" r="3.6"/><path d="M-14.5,12.5 v-10 q0,-5 5,-5 h2 q-1.6,2.5 -1.6,6 v9 z"/><path d="M14.5,12.5 v-10 q0,-5 -5,-5 h-2 q1.6,2.5 1.6,6 v9 z"/><path d="M-7.2,12.8 v-12 q0,-5.6 5.6,-5.6 h3.2 q5.6,0 5.6,5.6 v12 z"/><circle cx="0" cy="3.5" r="3.2" fill="#f4f1fb"/><rect x="-4.4" y="8.3" width="8.8" height="1.6" fill="#f4f1fb"/></g>
<rect x="1421.5" y="456.7" width="35.5" height="31.8" rx="2.5" fill="#363e48"/>
<rect x="1424.3" y="452.0" width="9.9" height="34.7" rx="3.5" fill="#434c57" stroke="#2a3139" stroke-width="0.7"/>
<rect x="1439.2" y="460.4" width="14.9" height="7.3" fill="#a6d3dd"/>
<rect x="1439.2" y="471.3" width="3.6" height="2.2" fill="#8a95a2"/>
<rect x="1444.8" y="471.3" width="3.6" height="2.2" fill="#8a95a2"/>
<rect x="1450.3" y="471.3" width="3.6" height="2.2" fill="#8a95a2"/>
<rect x="1439.2" y="475.5" width="3.6" height="2.2" fill="#8a95a2"/>
<rect x="1444.8" y="475.5" width="3.6" height="2.2" fill="#8a95a2"/>
<rect x="1450.3" y="475.5" width="3.6" height="2.2" fill="#8a95a2"/>
<rect x="1439.2" y="479.7" width="3.6" height="2.2" fill="#8a95a2"/>
<rect x="1444.8" y="479.7" width="3.6" height="2.2" fill="#8a95a2"/>
<rect x="1450.3" y="479.7" width="3.6" height="2.2" fill="#8a95a2"/>
<rect x="1439.2" y="483.9" width="3.6" height="2.2" fill="#8a95a2"/>
<rect x="1444.8" y="483.9" width="3.6" height="2.2" fill="#8a95a2"/>
<rect x="1450.3" y="483.9" width="3.6" height="2.2" fill="#8a95a2"/>
<path d="M1428,487 a2.4,2.4 0 1 0 4,1" fill="none" stroke="#2e353e" stroke-width="1.8"/>
<path d="M1458.5,485.5 L1477,499.5" stroke="#555b63" stroke-width="1.3" fill="none"/><path d="M1482,503 l-7.6,-1.6 l3.8,-5 z" fill="#555b63"/>
<path d="M1479.8,536 V546" stroke="#111" stroke-width="1.6"/><path d="M1479.8,553.8 l-5.6,-8.8 h11.2 z" fill="#111"/>
<path d="M1479.8,584 V594" stroke="#4a4f57" stroke-width="1.5"/><path d="M1479.8,601.6 l-5.6,-8.8 h11.2 z" fill="#4a4f57"/>
<path d="M1479.5,632 V665 M1381,665 V655.5 a4,4 0 0 1 4,-4 H1583.5 a4,4 0 0 1 4,4 V665" fill="none" stroke="#8a9199" stroke-width="1.3"/>
<path d="M1363.5,693.8 C1357.5,695.5 1357.5,707.0 1364.5,707.0 L1374.0,707.0" fill="none" stroke="#2a3139" stroke-width="2"/>
<rect x="1362.5" y="676.4" width="38.3" height="29.1" rx="2.5" fill="#363e48"/>
<rect x="1365.6" y="672.0" width="10.7" height="31.8" rx="3.5" fill="#434c57" stroke="#2a3139" stroke-width="0.7"/>
<rect x="1381.7" y="679.7" width="16.1" height="6.7" fill="#a6d3dd"/>
<rect x="1381.7" y="689.8" width="3.8" height="2.0" fill="#8a95a2"/>
<rect x="1387.6" y="689.8" width="3.8" height="2.0" fill="#8a95a2"/>
<rect x="1393.5" y="689.8" width="3.8" height="2.0" fill="#8a95a2"/>
<rect x="1381.7" y="693.6" width="3.8" height="2.0" fill="#8a95a2"/>
<rect x="1387.6" y="693.6" width="3.8" height="2.0" fill="#8a95a2"/>
<rect x="1393.5" y="693.6" width="3.8" height="2.0" fill="#8a95a2"/>
<rect x="1381.7" y="697.5" width="3.8" height="2.0" fill="#8a95a2"/>
<rect x="1387.6" y="697.5" width="3.8" height="2.0" fill="#8a95a2"/>
<rect x="1393.5" y="697.5" width="3.8" height="2.0" fill="#8a95a2"/>
<rect x="1381.7" y="701.3" width="3.8" height="2.0" fill="#8a95a2"/>
<rect x="1387.6" y="701.3" width="3.8" height="2.0" fill="#8a95a2"/>
<rect x="1393.5" y="701.3" width="3.8" height="2.0" fill="#8a95a2"/>
<rect x="1463" y="674.8" width="34.5" height="22.5" rx="1.4" fill="#f3f5f7" stroke="#2b3139" stroke-width="1.8"/>
<path d="M1462,697.5 H1498.5 L1503.8,704 q0.5,1.7 -1.2,1.7 H1458.4 q-1.7,0 -1.2,-1.7 Z" fill="#3a424c"/>
<g transform="translate(1480.3,686.3) scale(0.6) rotate(0) translate(-12,-12)"><path d="M6.62 10.79c1.44 2.83 3.76 5.14 6.59 6.59l2.2-2.2c.27-.27.67-.36 1.02-.24 1.12.37 2.33.57 3.57.57.55 0 1 .45 1 1V20c0 .55-.45 1-1 1-9.39 0-17-7.61-17-17 0-.55.45-1 1-1h3.5c.55 0 1 .45 1 1 0 1.25.2 2.45.57 3.57.11.35.03.74-.25 1.02l-2.2 2.2z" fill="#2b3139"/></g>
<rect x="1577.5" y="671.5" width="21" height="34.2" rx="3" fill="#2f353d"/><rect x="1579.3" y="675.6" width="17.4" height="25" rx="0.6" fill="#f6f7f9"/><rect x="1586" y="702.2" width="4" height="2" rx="0.5" fill="#8b95a2"/>
<g transform="translate(570.2,461.7)" fill="none" stroke="#2b3f7c" stroke-width="1.5" stroke-linecap="round" stroke-linejoin="round"><circle r="11.6"/><ellipse rx="5" ry="11.6"/><path d="M-11.6,0 H11.6 M-9.4,-6.8 Q0,-3.6 9.4,-6.8 M-9.4,6.8 Q0,3.6 9.4,6.8" stroke-width="1.3"/></g>
<g transform="translate(570.2,500.4)" fill="none" stroke="#2b3f7c" stroke-width="1.5" stroke-linecap="round" stroke-linejoin="round"><circle r="10.4" stroke-dasharray="5 2.2" stroke-width="2.6"/><circle r="8.2" stroke-width="1"/><ellipse rx="11.2" ry="4.6" stroke-width="1"/><rect x="-4" y="-3.6" width="8" height="7.2" rx="1.4" fill="#2b3f7c"/><rect x="-1.8" y="-1.6" width="3.6" height="3.2" fill="#f8fafe" stroke="none"/></g>
<g transform="translate(570.2,535)" fill="none" stroke="#2b3f7c" stroke-width="1.5" stroke-linecap="round" stroke-linejoin="round"><path d="M-6.5,0 L6,-7.6 M-6.5,0 L6,7.6" stroke-width="1.7"/><circle cx="-7.4" cy="0" r="3" fill="#f8fafe" stroke-width="1.8"/><circle cx="7" cy="-8" r="3" fill="#f8fafe" stroke-width="1.8"/><circle cx="7" cy="8" r="3" fill="#f8fafe" stroke-width="1.8"/></g>
<g transform="translate(559.6,560.4) scale(0.42,0.42) translate(-49.4,-813.7)"><path d="M60.5,813.6 Q62.2,813.6 63,815.2 L67.9,824.2 Q68.6,826 67.2,827.2 L61.9,832.2 Q65,841 76.5,850 L82.3,845.5 Q84,844.4 85.8,845.5 L94.6,853.6 Q96.4,855.6 95.4,857.6 Q91.5,864.5 85.5,864.6 Q70,862 57,842 Q49,829 49.8,824.5 Q50.5,817 60.5,813.6 Z" fill="#8f9cc0" stroke="#2b3f7c" stroke-width="3.4" stroke-linejoin="round"/></g>
<path d="M571.6,565 a5,5 0 0 1 4.6,4.6 M571.8,560.4 a9.4,9.4 0 0 1 9,9" fill="none" stroke="#2b3f7c" stroke-width="1.4" stroke-linecap="round"/>
<g transform="translate(570.2,605)" fill="none" stroke="#2b3f7c" stroke-width="1.5" stroke-linecap="round" stroke-linejoin="round"><path d="M-7,-2.6 V-10.6 H4.6 L7,-8.2 V-2.6"/><rect x="-11.6" y="-2.6" width="23.2" height="12.6" rx="2.4"/><rect x="-6.6" y="3" width="13.2" height="4.4" fill="#dfe6f3" stroke-width="1"/><path d="M-7,0.6 h3 M-2,0.6 h3 M3,0.6 h3" stroke-width="1.1"/></g>
<g transform="translate(570.2,639)" fill="none" stroke="#2b3f7c" stroke-width="1.5" stroke-linecap="round" stroke-linejoin="round"><path d="M0,12.6 C-5,7.6 -9.8,3.2 -9.8,-2.6 A9.8,9.8 0 0 1 9.8,-2.6 C9.8,3.2 5,7.6 0,12.6 Z"/><circle cy="-2.2" r="4.4"/><path d="M0,-12.4 V-6.6 M0,2.2 V7.4" stroke-width="1.2"/></g>
<g transform="translate(570.2,675.6)" fill="none" stroke="#2b3f7c" stroke-width="1.5" stroke-linecap="round" stroke-linejoin="round"><path d="M0,-12 L10,-8.4 V-1 C10,5.6 5.6,10 0,12.4 C-5.6,10 -10,5.6 -10,-1 V-8.4 Z"/><path d="M-4.4,-1.6 q0.4,-3.4 2.6,-3 l0.6,2 l1,-3.2 q1.4,-0.8 1.8,0.8 l0.8,-1.6 q1.6,0 1.6,1.6 q1.4,0 1.2,2 q0.4,6 -3.6,8 q-4.4,0.6 -6,-6.6 z" fill="#2b3f7c" stroke="none"/></g>
<g transform="translate(49.4,813.7) scale(1.0000,1.0000) translate(-49.4,-813.7)"><path d="M60.5,813.6 Q62.2,813.6 63,815.2 L67.9,824.2 Q68.6,826 67.2,827.2 L61.9,832.2 Q65,841 76.5,850 L82.3,845.5 Q84,844.4 85.8,845.5 L94.6,853.6 Q96.4,855.6 95.4,857.6 Q91.5,864.5 85.5,864.6 Q70,862 57,842 Q49,829 49.8,824.5 Q50.5,817 60.5,813.6 Z" fill="#1b5fc5"/><path d="M55,817.3 L63.1,828.1 M81.3,849.6 L92.1,858.6" stroke="#4d8be0" stroke-width="0.7" fill="none"/></g>
<g transform="translate(895,814) scale(0.8503,1.0059) translate(-49.4,-813.7)"><path d="M60.5,813.6 Q62.2,813.6 63,815.2 L67.9,824.2 Q68.6,826 67.2,827.2 L61.9,832.2 Q65,841 76.5,850 L82.3,845.5 Q84,844.4 85.8,845.5 L94.6,853.6 Q96.4,855.6 95.4,857.6 Q91.5,864.5 85.5,864.6 Q70,862 57,842 Q49,829 49.8,824.5 Q50.5,817 60.5,813.6 Z" fill="#1b5fc5"/><path d="M55,817.3 L63.1,828.1 M81.3,849.6 L92.1,858.6" stroke="#4d8be0" stroke-width="0.7" fill="none"/></g>
<path d="M226,835.6 H230.5 V829.5 L241.5,837.5 L230.5,845.5 V839.4 H226 Z" fill="#8ea2c6"/>
<path d="M456,835.6 H469.5 V829.5 L480.5,837.5 L469.5,845.5 V839.4 H456 Z" fill="#8ea2c6"/>
<path d="M677,835.6 H688.5 V829.5 L699.5,837.5 L688.5,845.5 V839.4 H677 Z" fill="#8ea2c6"/>
<path d="M871,835.6 H876 V829.5 L887,837.5 L876,845.5 V839.4 H871 Z" fill="#8ea2c6"/>
<rect x="252.7" y="810.9" width="46.6" height="50.8" rx="4" fill="#2a6dd0"/>
<rect x="252.7" y="858" width="46.6" height="3.7" rx="1.8" fill="#1f58b4"/>
<rect x="257.6" y="816" width="36.8" height="12.6" rx="1.2" fill="#4b8be3"/><rect x="259.6" y="818" width="29" height="3" fill="#2f71d4"/><rect x="259.6" y="823.4" width="29" height="3" fill="#2f71d4"/><circle cx="290.6" cy="819.6" r="1.3" fill="#eaf2ff"/><circle cx="290.6" cy="825" r="1.1" fill="#a9c8f4"/>
<rect x="257.6" y="833.4" width="36.8" height="22" rx="1.2" fill="#4b8be3"/><path d="M288.4,841 a2.8,2.8 0 1 1 5,0" fill="none" stroke="#eaf2ff" stroke-width="1.5"/><rect x="282" y="845.6" width="12" height="8" fill="#1f58b4"/><circle cx="289.6" cy="849.6" r="2.2" fill="none" stroke="#eaf2ff" stroke-width="1.3"/>
<rect x="259.6" y="837.4" width="3" height="1.6" fill="#d6e6fb"/><rect x="264.6" y="837.4" width="12" height="1.2" fill="#7fb0f0"/>
<rect x="259.6" y="842.2" width="3" height="1.6" fill="#d6e6fb"/><rect x="264.6" y="842.2" width="12" height="1.2" fill="#7fb0f0"/>
<rect x="259.6" y="847" width="3" height="1.6" fill="#d6e6fb"/><rect x="264.6" y="847" width="12" height="1.2" fill="#7fb0f0"/>
<g transform="translate(518,837)" fill="none" stroke="#1a43a6" stroke-width="2"><circle r="23"/><ellipse rx="10.6" ry="23"/><path d="M-23,0 H23 M-18.8,-13.4 Q0,-7 18.8,-13.4 M-18.8,13.4 Q0,7 18.8,13.4"/></g>
<rect x="712" y="809" width="35.5" height="55" rx="3.5" fill="#414b57"/><rect x="712" y="860.5" width="35.5" height="3.5" rx="1.7" fill="#2d343e"/>
<rect x="715.2" y="813.5" width="29.2" height="11.3" rx="1.2" fill="#56626f"/><rect x="715.2" y="824.8" width="29.2" height="2.6" fill="#2c333c"/>
<rect x="715.2" y="830" width="29.2" height="11.4" rx="1.2" fill="#56626f"/><rect x="715.2" y="841.4" width="29.2" height="2.6" fill="#2c333c"/>
<rect x="715.2" y="845.4" width="29.2" height="14.6" rx="1.2" fill="#3a434e"/><rect x="715.2" y="860" width="29.2" height="2.6" fill="#2c333c"/>
<circle cx="741" cy="817.8" r="1.3" fill="#86dcea"/><circle cx="741" cy="834.4" r="1.3" fill="#86dcea"/><circle cx="740.6" cy="852.8" r="1.8" fill="#3e8fa0" stroke="#86dcea" stroke-width="0.8"/><rect x="717.4" y="833" width="1.6" height="4" fill="#7a8694"/>
<path d="M1372.1,820.8 L1372.4,815.3 L1379.6,815.3 L1379.9,820.8 L1386.1,823.4 L1390.3,819.7 L1395.3,824.7 L1391.6,828.9 L1394.2,835.1 L1399.7,835.4 L1399.7,842.6 L1394.2,842.9 L1391.6,849.1 L1395.3,853.3 L1390.3,858.3 L1386.1,854.6 L1379.9,857.2 L1379.6,862.7 L1372.4,862.7 L1372.1,857.2 L1365.9,854.6 L1361.7,858.3 L1356.7,853.3 L1360.4,849.1 L1357.8,842.9 L1352.3,842.6 L1352.3,835.4 L1357.8,835.1 L1360.4,828.9 L1356.7,824.7 L1361.7,819.7 L1365.9,823.4 Z" fill="#1b5fc5" stroke="#1b5fc5" stroke-width="2" stroke-linejoin="round"/><circle cx="1376" cy="839" r="10.6" fill="#f6f9fe"/>
<line x1="1321" y1="764" x2="1321" y2="913" stroke="#b4c8e4" stroke-width="1.3" stroke-dasharray="9 2.5"/>
<circle cx="1106.5" cy="815.5" r="2.3" fill="#1f2228"/>
<circle cx="1106.5" cy="841" r="2.3" fill="#1f2228"/>
<circle cx="1106.5" cy="866.5" r="2.3" fill="#1f2228"/>
<circle cx="1106.5" cy="892" r="2.3" fill="#1f2228"/>
<circle cx="1424" cy="815.5" r="2.3" fill="#1a2a5c"/>
<circle cx="1424" cy="841" r="2.3" fill="#1a2a5c"/>
<circle cx="1424" cy="866.5" r="2.3" fill="#1a2a5c"/>
<circle cx="1424" cy="892" r="2.3" fill="#1a2a5c"/>
</svg>
<div class="t" style="left:522.2px;top:10.75px;font-size:62.5px;line-height:62.5px;font-weight:700;color:#161b29;letter-spacing:-1.125px;transform:scaleX(0.9166);">PSTN</div>
<div class="t" style="left:687.4px;top:10.75px;font-size:62.5px;line-height:62.5px;font-weight:700;color:#161b29;letter-spacing:3.125px;transform:scaleX(1.0304);">to</div>
<div class="t" style="left:760.1px;top:10.75px;font-size:62.5px;line-height:62.5px;font-weight:700;color:#161b29;letter-spacing:-0.951px;">VoIP</div>
<div class="t" style="left:909.6px;top:10.75px;font-size:62.5px;line-height:62.5px;font-weight:700;color:#161b29;letter-spacing:-1.125px;transform:scaleX(0.9756);">Gateway</div>
<div class="t" style="left:466.9px;top:80.00px;font-size:31px;line-height:31px;font-weight:400;color:#3c414c;letter-spacing:1.075px;-webkit-text-stroke:0.50px #3c414c;">Connecting Traditional Telephony with IP Network</div>
<div class="t" style="left:84.2px;top:138.85px;font-size:20.3px;line-height:20.3px;font-weight:700;color:#fff;letter-spacing:-0.365px;transform:scaleX(0.9441);">PSTN / Traditional Telephony</div>
<div class="t" style="left:161.0px;top:190.40px;font-size:17.2px;line-height:17.2px;font-weight:400;color:#1a4fa8;letter-spacing:-0.310px;transform:scaleX(0.9844);-webkit-text-stroke:0.76px #1a4fa8;">PSTN Network</div>
<div class="t" style="left:64.9px;top:232.00px;font-size:14.0px;line-height:14.0px;font-weight:400;color:#171a20;letter-spacing:-0.096px;-webkit-text-stroke:0.22px #171a20;">Local</div>
<div class="t" style="left:52.4px;top:250.00px;font-size:14.0px;line-height:14.0px;font-weight:400;color:#171a20;letter-spacing:-0.252px;transform:scaleX(0.9535);-webkit-text-stroke:0.22px #171a20;">Exchange</div>
<div class="t" style="left:332.9px;top:232.00px;font-size:14.0px;line-height:14.0px;font-weight:400;color:#171a20;letter-spacing:-0.096px;-webkit-text-stroke:0.22px #171a20;">Local</div>
<div class="t" style="left:320.4px;top:250.00px;font-size:14.0px;line-height:14.0px;font-weight:400;color:#171a20;letter-spacing:-0.252px;transform:scaleX(0.9535);-webkit-text-stroke:0.22px #171a20;">Exchange</div>
<div class="t" style="left:64.9px;top:501.00px;font-size:14.0px;line-height:14.0px;font-weight:400;color:#171a20;letter-spacing:-0.096px;-webkit-text-stroke:0.22px #171a20;">Local</div>
<div class="t" style="left:52.4px;top:519.00px;font-size:14.0px;line-height:14.0px;font-weight:400;color:#171a20;letter-spacing:-0.252px;transform:scaleX(0.9535);-webkit-text-stroke:0.22px #171a20;">Exchange</div>
<div class="t" style="left:332.9px;top:501.00px;font-size:14.0px;line-height:14.0px;font-weight:400;color:#171a20;letter-spacing:-0.096px;-webkit-text-stroke:0.22px #171a20;">Local</div>
<div class="t" style="left:320.4px;top:519.00px;font-size:14.0px;line-height:14.0px;font-weight:400;color:#171a20;letter-spacing:-0.252px;transform:scaleX(0.9535);-webkit-text-stroke:0.22px #171a20;">Exchange</div>
<div class="t" style="left:194.7px;top:358.20px;font-size:18.6px;line-height:18.6px;font-weight:400;color:#111;letter-spacing:-0.335px;transform:scaleX(0.9632);-webkit-text-stroke:0.82px #111;">PSTN</div>
<div class="t" style="left:167.3px;top:384.60px;font-size:13.8px;line-height:13.8px;font-weight:400;color:#171a20;letter-spacing:0.062px;-webkit-text-stroke:0.22px #171a20;">(Public Switched</div>
<div class="t" style="left:155.7px;top:404.60px;font-size:13.8px;line-height:13.8px;font-weight:400;color:#171a20;letter-spacing:0.112px;-webkit-text-stroke:0.22px #171a20;">Telephone Network)</div>
<div class="t" style="left:139.0px;top:566.20px;font-size:16.6px;line-height:16.6px;font-weight:400;color:#1a4fa8;letter-spacing:-0.235px;-webkit-text-stroke:0.73px #1a4fa8;">Traditional Endpoints</div>
<div class="t" style="left:48.0px;top:679.70px;font-size:14.6px;line-height:14.6px;font-weight:400;color:#171a20;letter-spacing:-0.263px;transform:scaleX(0.9527);-webkit-text-stroke:0.23px #171a20;">Analog Phone</div>
<div class="t" style="left:205.9px;top:679.70px;font-size:14.6px;line-height:14.6px;font-weight:400;color:#171a20;letter-spacing:-0.263px;transform:scaleX(0.8906);-webkit-text-stroke:0.23px #171a20;">Fax</div>
<div class="t" style="left:287.4px;top:679.70px;font-size:14.6px;line-height:14.6px;font-weight:400;color:#171a20;letter-spacing:-0.263px;transform:scaleX(0.9278);-webkit-text-stroke:0.23px #171a20;">PBX / Key System</div>
<div class="t" style="left:590.9px;top:198.50px;font-size:25.0px;line-height:25.0px;font-weight:700;color:#0b2c8c;letter-spacing:-0.450px;transform:scaleX(0.9263);">PSTN</div>
<div class="t" style="left:658.3px;top:198.50px;font-size:25.0px;line-height:25.0px;font-weight:700;color:#0b2c8c;letter-spacing:0.286px;">to</div>
<div class="t" style="left:688.5px;top:198.50px;font-size:25.0px;line-height:25.0px;font-weight:700;color:#0b2c8c;letter-spacing:-0.450px;transform:scaleX(0.9720);">VoIP</div>
<div class="t" style="left:616.1px;top:232.50px;font-size:25.0px;line-height:25.0px;font-weight:700;color:#0b2c8c;letter-spacing:-0.450px;transform:scaleX(0.9952);">Gateway</div>
<div class="t" style="left:425.6px;top:383.95px;font-size:15.1px;line-height:15.1px;font-weight:400;color:#111;letter-spacing:-0.211px;-webkit-text-stroke:0.66px #111;">E1/T1/PRI</div>
<div class="t" style="left:430.0px;top:404.95px;font-size:15.1px;line-height:15.1px;font-weight:400;color:#111;letter-spacing:-0.272px;transform:scaleX(0.9355);-webkit-text-stroke:0.66px #111;">ISDN BRI</div>
<div class="t" style="left:430.7px;top:424.95px;font-size:15.1px;line-height:15.1px;font-weight:400;color:#111;letter-spacing:-0.272px;transform:scaleX(0.9070);-webkit-text-stroke:0.66px #111;">FXS/FXO</div>
<div class="t" style="left:792.7px;top:383.95px;font-size:15.1px;line-height:15.1px;font-weight:400;color:#111;letter-spacing:-0.272px;transform:scaleX(0.9439);-webkit-text-stroke:0.66px #111;">SIP / UDP / RTP</div>
<div class="t" style="left:596.2px;top:446.60px;font-size:13.8px;line-height:13.8px;font-weight:400;color:#263a70;letter-spacing:-0.241px;-webkit-text-stroke:0.22px #263a70;">Protocol Conversion</div>
<div class="t" style="left:596.3px;top:463.60px;font-size:13.8px;line-height:13.8px;font-weight:400;color:#263a70;letter-spacing:-0.248px;transform:scaleX(0.9763);-webkit-text-stroke:0.22px #263a70;">(TDM</div>
<div class="t" style="left:628.0px;top:454.50px;font-size:24px;line-height:24px;font-weight:400;color:#263a70;letter-spacing:1.200px;transform:scaleX(1.1361);-webkit-text-stroke:0.38px #263a70;">↔</div>
<div class="t" style="left:655.4px;top:463.60px;font-size:13.8px;line-height:13.8px;font-weight:400;color:#263a70;letter-spacing:-0.248px;transform:scaleX(0.9728);-webkit-text-stroke:0.22px #263a70;">IP)</div>
<div class="t" style="left:596.5px;top:494.60px;font-size:13.8px;line-height:13.8px;font-weight:400;color:#263a70;letter-spacing:-0.248px;transform:scaleX(0.9737);-webkit-text-stroke:0.22px #263a70;">Codec Transcoding</div>
<div class="t" style="left:596.5px;top:528.60px;font-size:13.8px;line-height:13.8px;font-weight:400;color:#263a70;letter-spacing:-0.248px;transform:scaleX(0.9965);-webkit-text-stroke:0.22px #263a70;">Call Routing</div>
<div class="t" style="left:596.1px;top:562.60px;font-size:13.8px;line-height:13.8px;font-weight:400;color:#263a70;letter-spacing:-0.130px;-webkit-text-stroke:0.22px #263a70;">Number Manipulation</div>
<div class="t" style="left:596.3px;top:598.65px;font-size:12.7px;line-height:12.7px;font-weight:400;color:#263a70;letter-spacing:-0.229px;transform:scaleX(0.8856);-webkit-text-stroke:0.20px #263a70;">Fax over IP (T.38 / Pass-through)</div>
<div class="t" style="left:596.6px;top:633.60px;font-size:13.8px;line-height:13.8px;font-weight:400;color:#263a70;letter-spacing:-0.248px;transform:scaleX(0.9665);-webkit-text-stroke:0.22px #263a70;">SIP Registration</div>
<div class="t" style="left:596.6px;top:667.60px;font-size:13.8px;line-height:13.8px;font-weight:400;color:#263a70;letter-spacing:-0.248px;transform:scaleX(0.9672);-webkit-text-stroke:0.22px #263a70;">Security &amp; QoS</div>
<div class="t" style="left:984.2px;top:138.85px;font-size:20.3px;line-height:20.3px;font-weight:700;color:#fff;letter-spacing:-0.365px;transform:scaleX(0.9817);">IP Network / VoIP System</div>
<div class="t" style="left:1034.3px;top:190.40px;font-size:17.2px;line-height:17.2px;font-weight:400;color:#2a8437;letter-spacing:0.066px;-webkit-text-stroke:0.76px #2a8437;">VoIP Infrastructure</div>
<div class="t" style="left:947.8px;top:312.70px;font-size:14.6px;line-height:14.6px;font-weight:400;color:#171a20;letter-spacing:-0.263px;transform:scaleX(0.9248);-webkit-text-stroke:0.23px #171a20;">SIP Server /</div>
<div class="t" style="left:960.8px;top:331.70px;font-size:14.6px;line-height:14.6px;font-weight:400;color:#171a20;letter-spacing:-0.263px;transform:scaleX(0.9175);-webkit-text-stroke:0.23px #171a20;">IP-PBX</div>
<div class="t" style="left:1074.7px;top:312.70px;font-size:14.6px;line-height:14.6px;font-weight:400;color:#171a20;letter-spacing:-0.263px;-webkit-text-stroke:0.23px #171a20;">Softswitch</div>
<div class="t" style="left:1191.1px;top:320.70px;font-size:14.6px;line-height:14.6px;font-weight:400;color:#171a20;letter-spacing:-0.263px;transform:scaleX(0.9692);-webkit-text-stroke:0.23px #171a20;">Call Manager</div>
<div class="t" style="left:1056.0px;top:455.15px;font-size:17.7px;line-height:17.7px;font-weight:400;color:#111;letter-spacing:0.364px;-webkit-text-stroke:0.78px #111;">IP Network</div>
<div class="t" style="left:1033.9px;top:478.90px;font-size:13.2px;line-height:13.2px;font-weight:400;color:#171a20;letter-spacing:0.138px;-webkit-text-stroke:0.21px #171a20;">(LAN / WAN / Internet)</div>
<div class="t" style="left:1052.3px;top:579.15px;font-size:17.7px;line-height:17.7px;font-weight:400;color:#2a8437;letter-spacing:-0.125px;-webkit-text-stroke:0.78px #2a8437;">IP Endpoints</div>
<div class="t" style="left:920.2px;top:681.70px;font-size:14.6px;line-height:14.6px;font-weight:400;color:#171a20;letter-spacing:-0.263px;transform:scaleX(0.9425);-webkit-text-stroke:0.23px #171a20;">IP Phone</div>
<div class="t" style="left:1014.8px;top:681.70px;font-size:14.6px;line-height:14.6px;font-weight:400;color:#171a20;letter-spacing:-0.263px;transform:scaleX(0.9896);-webkit-text-stroke:0.23px #171a20;">Softphone</div>
<div class="t" style="left:1113.3px;top:681.70px;font-size:14.6px;line-height:14.6px;font-weight:400;color:#171a20;letter-spacing:-0.137px;-webkit-text-stroke:0.23px #171a20;">Mobile App</div>
<div class="t" style="left:1215.4px;top:681.70px;font-size:14.6px;line-height:14.6px;font-weight:400;color:#171a20;letter-spacing:-0.263px;transform:scaleX(0.9530);-webkit-text-stroke:0.23px #171a20;">Video Phone</div>
<div class="t" style="left:1438.8px;top:138.90px;font-size:19.2px;line-height:19.2px;font-weight:700;color:#fff;letter-spacing:-0.346px;transform:scaleX(0.9463);">Key Benefits</div>
<div class="t" style="left:1414.6px;top:177.70px;font-size:14.6px;line-height:14.6px;font-weight:400;color:#171a20;letter-spacing:-0.205px;-webkit-text-stroke:0.23px #171a20;">Seamless integration of legacy</div>
<div class="t" style="left:1414.1px;top:196.70px;font-size:14.6px;line-height:14.6px;font-weight:400;color:#171a20;letter-spacing:-0.263px;transform:scaleX(0.9771);-webkit-text-stroke:0.23px #171a20;">PSTN and modern VoIP systems</div>
<div class="t" style="left:1414.6px;top:227.70px;font-size:14.6px;line-height:14.6px;font-weight:400;color:#171a20;letter-spacing:-0.132px;-webkit-text-stroke:0.23px #171a20;">Cost savings on long-distance</div>
<div class="t" style="left:1414.7px;top:246.70px;font-size:14.6px;line-height:14.6px;font-weight:400;color:#171a20;letter-spacing:-0.108px;-webkit-text-stroke:0.23px #171a20;">and international calls</div>
<div class="t" style="left:1414.2px;top:277.70px;font-size:14.6px;line-height:14.6px;font-weight:400;color:#171a20;letter-spacing:-0.075px;-webkit-text-stroke:0.23px #171a20;">Utilize existing phone numbers</div>
<div class="t" style="left:1414.7px;top:296.70px;font-size:14.6px;line-height:14.6px;font-weight:400;color:#171a20;letter-spacing:0.003px;-webkit-text-stroke:0.23px #171a20;">and infrastructure</div>
<div class="t" style="left:1414.1px;top:328.70px;font-size:14.6px;line-height:14.6px;font-weight:400;color:#171a20;letter-spacing:-0.076px;-webkit-text-stroke:0.23px #171a20;">Flexibility and scalability</div>
<div class="t" style="left:1414.0px;top:358.70px;font-size:14.6px;line-height:14.6px;font-weight:400;color:#171a20;letter-spacing:-0.040px;-webkit-text-stroke:0.23px #171a20;">Improved feature set and</div>
<div class="t" style="left:1414.3px;top:377.70px;font-size:14.6px;line-height:14.6px;font-weight:400;color:#171a20;letter-spacing:-0.263px;-webkit-text-stroke:0.23px #171a20;">management</div>
<div class="t" style="left:1405.3px;top:415.90px;font-size:18.2px;line-height:18.2px;font-weight:700;color:#fff;letter-spacing:-0.328px;transform:scaleX(0.9527);">Call Routing Example</div>
<div class="t" style="left:1486.3px;top:453.00px;font-size:13.0px;line-height:13.0px;font-weight:400;color:#171a20;letter-spacing:-0.234px;transform:scaleX(0.9663);-webkit-text-stroke:0.21px #171a20;">PSTN Caller</div>
<div class="t" style="left:1468.1px;top:471.00px;font-size:13.0px;line-height:13.0px;font-weight:400;color:#171a20;letter-spacing:-0.234px;transform:scaleX(0.9873);-webkit-text-stroke:0.21px #171a20;">(Traditional Phone)</div>
<div class="t" style="left:1435.1px;top:515.00px;font-size:14.0px;line-height:14.0px;font-weight:400;color:#1a1d22;letter-spacing:-0.252px;transform:scaleX(0.9753);-webkit-text-stroke:0.62px #1a1d22;">PSTN Network</div>
<div class="t" style="left:1410.7px;top:563.00px;font-size:14.0px;line-height:14.0px;font-weight:400;color:#1a1d22;letter-spacing:-0.252px;transform:scaleX(0.9648);-webkit-text-stroke:0.62px #1a1d22;">PSTN to VoIP Gateway</div>
<div class="t" style="left:1420.6px;top:610.00px;font-size:14.0px;line-height:14.0px;font-weight:400;color:#1a1d22;letter-spacing:-0.252px;transform:scaleX(0.9697);-webkit-text-stroke:0.62px #1a1d22;">IP-PBX / SIP Server</div>
<div class="t" style="left:1358.4px;top:714.00px;font-size:12.0px;line-height:12.0px;font-weight:400;color:#171a20;letter-spacing:-0.216px;transform:scaleX(0.9520);-webkit-text-stroke:0.19px #171a20;">IP Phone</div>
<div class="t" style="left:1455.0px;top:714.00px;font-size:12.0px;line-height:12.0px;font-weight:400;color:#171a20;letter-spacing:-0.216px;transform:scaleX(0.9921);-webkit-text-stroke:0.19px #171a20;">Softphone</div>
<div class="t" style="left:1558.5px;top:714.00px;font-size:12.0px;line-height:12.0px;font-weight:400;color:#171a20;letter-spacing:0.050px;-webkit-text-stroke:0.19px #171a20;">Mobile App</div>
<div class="t" style="left:378.5px;top:771.20px;font-size:16.6px;line-height:16.6px;font-weight:400;color:#0f2687;letter-spacing:-0.268px;-webkit-text-stroke:0.73px #0f2687;">How It Works</div>
<div class="t" style="left:111.8px;top:809.85px;font-size:13.3px;line-height:13.3px;font-weight:400;color:#102c96;letter-spacing:-0.239px;transform:scaleX(0.9652);-webkit-text-stroke:0.59px #102c96;">1. PSTN Call In</div>
<div class="t" style="left:111.8px;top:831.85px;font-size:13.3px;line-height:13.3px;font-weight:400;color:#171a20;letter-spacing:-0.239px;transform:scaleX(0.9673);-webkit-text-stroke:0.21px #171a20;">Call comes from the</div>
<div class="t" style="left:111.5px;top:852.85px;font-size:13.3px;line-height:13.3px;font-weight:400;color:#171a20;letter-spacing:-0.239px;transform:scaleX(0.9484);-webkit-text-stroke:0.21px #171a20;">PSTN network via</div>
<div class="t" style="left:111.4px;top:872.85px;font-size:13.3px;line-height:13.3px;font-weight:400;color:#171a20;letter-spacing:-0.239px;transform:scaleX(0.9651);-webkit-text-stroke:0.21px #171a20;">E1/T1/FXO/BRI.</div>
<div class="t" style="left:317.1px;top:809.85px;font-size:13.3px;line-height:13.3px;font-weight:400;color:#102c96;letter-spacing:-0.239px;transform:scaleX(0.9844);-webkit-text-stroke:0.59px #102c96;">2. Gateway Processing</div>
<div class="t" style="left:316.9px;top:831.85px;font-size:13.3px;line-height:13.3px;font-weight:400;color:#171a20;letter-spacing:-0.239px;transform:scaleX(0.9650);-webkit-text-stroke:0.21px #171a20;">Gateway converts TDM</div>
<div class="t" style="left:316.7px;top:852.85px;font-size:13.3px;line-height:13.3px;font-weight:400;color:#171a20;letter-spacing:-0.239px;transform:scaleX(0.9690);-webkit-text-stroke:0.21px #171a20;">(voice) to IP packets,</div>
<div class="t" style="left:316.6px;top:872.85px;font-size:13.3px;line-height:13.3px;font-weight:400;color:#171a20;letter-spacing:-0.239px;transform:scaleX(0.9828);-webkit-text-stroke:0.21px #171a20;">handles signaling</div>
<div class="t" style="left:317.0px;top:893.85px;font-size:13.3px;line-height:13.3px;font-weight:400;color:#171a20;letter-spacing:-0.239px;transform:scaleX(0.9697);-webkit-text-stroke:0.21px #171a20;">and codecs.</div>
<div class="t" style="left:555.8px;top:809.85px;font-size:13.3px;line-height:13.3px;font-weight:400;color:#102c96;letter-spacing:-0.239px;transform:scaleX(0.9544);-webkit-text-stroke:0.59px #102c96;">3. IP Transmission</div>
<div class="t" style="left:555.9px;top:831.85px;font-size:13.3px;line-height:13.3px;font-weight:400;color:#171a20;letter-spacing:-0.239px;transform:scaleX(0.9721);-webkit-text-stroke:0.21px #171a20;">Voice is transmitted</div>
<div class="t" style="left:555.5px;top:852.85px;font-size:13.3px;line-height:13.3px;font-weight:400;color:#171a20;letter-spacing:-0.239px;transform:scaleX(0.9738);-webkit-text-stroke:0.21px #171a20;">over IP network using</div>
<div class="t" style="left:555.5px;top:872.85px;font-size:13.3px;line-height:13.3px;font-weight:400;color:#171a20;letter-spacing:-0.239px;transform:scaleX(0.8532);-webkit-text-stroke:0.21px #171a20;">SIP, RTP, UDP.</div>
<div class="t" style="left:763.5px;top:809.85px;font-size:13.3px;line-height:13.3px;font-weight:400;color:#102c96;letter-spacing:-0.239px;transform:scaleX(0.9605);-webkit-text-stroke:0.59px #102c96;">4. VoIP System</div>
<div class="t" style="left:762.4px;top:831.85px;font-size:13.3px;line-height:13.3px;font-weight:400;color:#171a20;letter-spacing:-0.239px;transform:scaleX(0.9142);-webkit-text-stroke:0.21px #171a20;">IP-PBX / SIP server</div>
<div class="t" style="left:762.7px;top:852.85px;font-size:13.3px;line-height:13.3px;font-weight:400;color:#171a20;letter-spacing:-0.239px;transform:scaleX(0.9539);-webkit-text-stroke:0.21px #171a20;">processes the call</div>
<div class="t" style="left:762.9px;top:872.85px;font-size:13.3px;line-height:13.3px;font-weight:400;color:#171a20;letter-spacing:-0.239px;transform:scaleX(0.9861);-webkit-text-stroke:0.21px #171a20;">and routes it.</div>
<div class="t" style="left:948.3px;top:809.85px;font-size:13.3px;line-height:13.3px;font-weight:400;color:#102c96;letter-spacing:-0.239px;transform:scaleX(0.9824);-webkit-text-stroke:0.59px #102c96;">5. VoIP Endpoint</div>
<div class="t" style="left:947.8px;top:831.85px;font-size:13.3px;line-height:13.3px;font-weight:400;color:#171a20;letter-spacing:-0.239px;transform:scaleX(0.9817);-webkit-text-stroke:0.21px #171a20;">Call is delivered to</div>
<div class="t" style="left:948.3px;top:852.85px;font-size:13.3px;line-height:13.3px;font-weight:400;color:#171a20;letter-spacing:-0.239px;transform:scaleX(0.9846);-webkit-text-stroke:0.21px #171a20;">the IP endpoint</div>
<div class="t" style="left:947.7px;top:872.85px;font-size:13.3px;line-height:13.3px;font-weight:400;color:#171a20;letter-spacing:-0.239px;transform:scaleX(0.9843);-webkit-text-stroke:0.21px #171a20;">(phone, app, etc.).</div>
<div class="t" style="left:1108.1px;top:771.70px;font-size:15.6px;line-height:15.6px;font-weight:400;color:#0f2687;letter-spacing:-0.281px;-webkit-text-stroke:0.69px #0f2687;">Common Gateway Interfaces</div>
<div class="t" style="left:1424.1px;top:771.70px;font-size:15.6px;line-height:15.6px;font-weight:400;color:#0f2687;letter-spacing:-0.181px;-webkit-text-stroke:0.69px #0f2687;">Supported Protocols</div>
<div class="t" style="left:1117.3px;top:807.70px;font-size:15.6px;line-height:15.6px;font-weight:400;color:#171a20;letter-spacing:-0.281px;transform:scaleX(0.9263);-webkit-text-stroke:0.25px #171a20;">E1/T1/PRI (R2 / CAS)</div>
<div class="t" style="left:1117.2px;top:832.70px;font-size:15.6px;line-height:15.6px;font-weight:400;color:#171a20;letter-spacing:-0.281px;transform:scaleX(0.9016);-webkit-text-stroke:0.25px #171a20;">ISDN BRI / S0</div>
<div class="t" style="left:1118.5px;top:858.70px;font-size:15.6px;line-height:15.6px;font-weight:400;color:#171a20;letter-spacing:-0.281px;transform:scaleX(0.9041);-webkit-text-stroke:0.25px #171a20;">Analog FXS / FXO</div>
<div class="t" style="left:1117.7px;top:883.70px;font-size:15.6px;line-height:15.6px;font-weight:400;color:#171a20;letter-spacing:-0.281px;transform:scaleX(0.9656);-webkit-text-stroke:0.25px #171a20;">GSM / 3G / 4G (Optional)</div>
<div class="t" style="left:1436.4px;top:807.70px;font-size:15.6px;line-height:15.6px;font-weight:400;color:#1a3a8c;letter-spacing:-0.281px;transform:scaleX(0.8921);-webkit-text-stroke:0.25px #1a3a8c;">SIP (UDP / TCP / TLS)</div>
<div class="t" style="left:1435.9px;top:832.70px;font-size:15.6px;line-height:15.6px;font-weight:400;color:#1a3a8c;letter-spacing:-0.281px;transform:scaleX(0.8561);-webkit-text-stroke:0.25px #1a3a8c;">RTP / SRTP</div>
<div class="t" style="left:1436.7px;top:858.70px;font-size:15.6px;line-height:15.6px;font-weight:400;color:#1a3a8c;letter-spacing:-0.281px;transform:scaleX(0.8634);-webkit-text-stroke:0.25px #1a3a8c;">T.38 Fax</div>
<div class="t" style="left:1436.4px;top:883.70px;font-size:15.6px;line-height:15.6px;font-weight:400;color:#1a3a8c;letter-spacing:-0.281px;transform:scaleX(0.9167);-webkit-text-stroke:0.25px #1a3a8c;">SNMP / TR-069</div>
</body></html>
